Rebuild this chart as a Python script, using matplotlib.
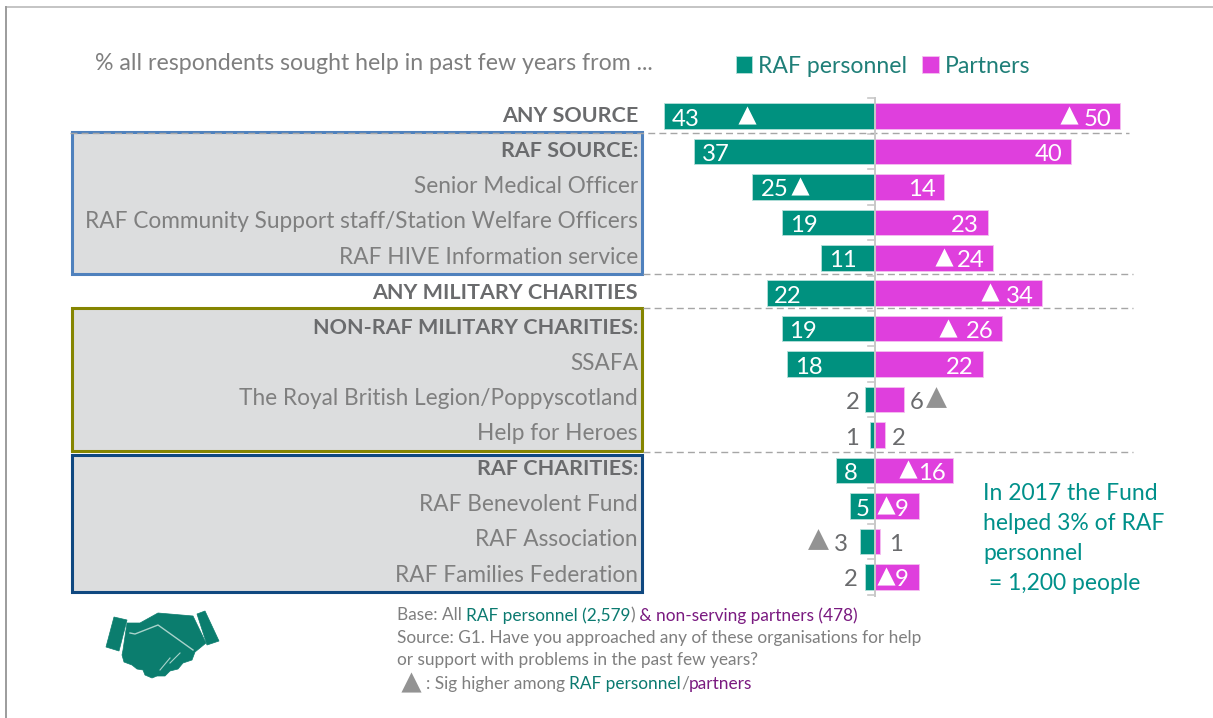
import matplotlib
matplotlib.use("Agg")
import matplotlib.pyplot as plt
from matplotlib.patches import Rectangle, Polygon

plt.rcParams['font.family'] = ['Lato', 'DejaVu Sans']

# ---- data ----
categories = ["ANY SOURCE", "RAF SOURCE:", "Senior Medical Officer",
              "RAF Community Support staff/Station Welfare Officers",
              "RAF HIVE Information service", "ANY MILITARY CHARITIES",
              "NON-RAF MILITARY CHARITIES:", "SSAFA",
              "The Royal British Legion/Poppyscotland", "Help for Heroes",
              "RAF CHARITIES:", "RAF Benevolent Fund", "RAF Association",
              "RAF Families Federation"]
bold_rows = [0, 1, 5, 6, 10]
raf_personnel = [43, 37, 25, 19, 11, 22, 19, 18, 2, 1, 8, 5, 3, 2]
partners = [50, 40, 14, 23, 24, 34, 26, 22, 6, 2, 16, 9, 1, 9]

# ---- layout (label and marker x positions, in pixels) ----
raf_label_x = [686, 716, 775, 804, 843, 788, 803, 809, 853, 852, 851, 863, 841, 851]
par_label_x = [1098, 1049, 922, 965, 971, 1020, 980, 960, 917, 899, 932, 902, 896, 902]
raf_white = [0, 1, 2, 3, 4, 5, 6, 7, 10, 11]
par_white = [0, 1, 2, 3, 4, 5, 6, 7, 10, 11, 13]
white_tri = [(0, 747), (0, 1069), (2, 800), (4, 944), (5, 990), (6, 948),
             (10, 908), (11, 886), (13, 886)]
grey_tri = [(8, 936), (12, 818)]

W, H = 1213, 718
TEAL, MAGENTA = '#00917f', '#df3fdd'
TEAL_TXT, PURPLE = '#00807a', '#7a1a80'
GREY, DARK = '#7f7f7f', '#6a6b6d'
X0, PXU = 875.0, 4.9
Y0, PXR = 116.0, 35.45
FS = 16.3


def px2x(p):
    return (p - X0) / PXU


def py2y(p):
    return (p - Y0) / PXR


fig = plt.figure(figsize=(W / 100, H / 100), dpi=100, facecolor='white')
bg = fig.add_axes([0, 0, 1, 1])
bg.set_xlim(0, W)
bg.set_ylim(H, 0)
bg.axis('off')
ax = fig.add_axes([0, 0, 1, 1], facecolor='none')
ax.set_xlim(px2x(0), px2x(W))
ax.set_ylim(py2y(H), py2y(0))
ax.axis('off')

# frame
bg.plot([6, W], [7, 7], color='#c4c4c4', lw=1.4)
bg.plot([6, 6], [7, H], color='#9c9c9c', lw=1.4)

# group boxes
for (y0, y1, c) in [(132, 274, '#4f81bd'), (308, 451, '#858500'), (455, 592, '#0f4880')]:
    bg.add_patch(Rectangle((72, y0), 570, y1 - y0, facecolor='#dcddde', edgecolor=c, lw=2.2, zorder=2))

# dashed separators
for (a, b, y) in [(70, 1129, 133), (643, 1133, 274), (643, 1133, 308), (643, 1133, 452)]:
    bg.plot([a, b], [y, y], color='#a6a6a6', lw=1.0, ls=(0, (5, 3)), zorder=3)

# bars
rows = list(range(len(categories)))
ax.barh(rows, [-v for v in raf_personnel], height=0.72, color=TEAL, edgecolor='#b5e0da', lw=0.6,
        label='RAF personnel', zorder=4)
ax.barh(rows, partners, height=0.72, color=MAGENTA, edgecolor='#f5c0f0', lw=0.6,
        label='Partners', zorder=4)

# axis ticks and line
for i in range(15):
    yy = Y0 + (i - 0.5) * PXR
    bg.plot([868, 875], [yy, yy], color='#c8c8c8', lw=1.2, zorder=1)
ax.plot([0, 0], [py2y(98), py2y(596)], color='#c8c8c8', lw=1.4, zorder=5)

# category labels
for i, c in enumerate(categories):
    b = i in bold_rows
    ax.text(px2x(638), i * 0.997 - 0.06, c, ha='right', va='center_baseline', fontsize=15.45 if b else FS,
            fontweight='bold' if b else 'normal', color=DARK if b else GREY, zorder=6)

# value labels
for i, v in enumerate(raf_personnel):
    ax.text(px2x(raf_label_x[i]), i + 0.03, str(v), ha='center', va='center_baseline', fontsize=17.2,
            color='white' if i in raf_white else DARK, zorder=6)
for i, v in enumerate(partners):
    ax.text(px2x(par_label_x[i]), i + 0.03, str(v), ha='center', va='center_baseline', fontsize=17.2,
            color='white' if i in par_white else DARK, zorder=6)

# significance markers
ax.scatter([px2x(x) for r, x in white_tri], [r - 0.03 for r, x in white_tri], marker='^', s=170,
           color='white', lw=0, zorder=6)
ax.scatter([px2x(x) for r, x in grey_tri], [r - 0.08 for r, x in grey_tri], marker='^', s=225,
           color='#939393', lw=0, zorder=6)

# header and legend
bg.text(95, 61, "% all respondents sought help in past few years from ...", fontsize=16.7, color=GREY,
        ha='left', va='center_baseline')
leg = ax.legend(loc='upper left', bbox_to_anchor=(731 / W, 1 - 51 / H), ncols=2, frameon=False,
                fontsize=16.6, labelcolor='#1f7f78', handlelength=0.72, handleheight=0.72,
                handletextpad=0.26, columnspacing=0.66, borderaxespad=0, borderpad=0.2)

# side note
for y, s in [(491, "In 2017 the Fund"), (521, "helped 3% of RAF"), (552, "personnel"), (581, " = 1,200 people")]:
    bg.text(983, y, s, fontsize=FS + 0.2, color='#00908a', ha='left', va='center_baseline')


# footnotes with coloured runs
def runs(x, y, parts, fs=12.45):
    r = fig.canvas.get_renderer()
    for s, col in parts:
        t = bg.text(x, y, s, fontsize=fs, color=col, ha='left', va='center_baseline')
        x = bg.transData.inverted().transform(t.get_window_extent(r).get_points())[1, 0]


runs(397, 614, [("Base: All ", GREY), ("RAF personnel (2,579", '#0b7a70'), (")", GREY),
                (" & non-serving partners (478)", PURPLE)])
runs(397, 637, [("Source: G1. Have you approached any of these organisations for help", GREY)])
runs(397, 659, [("or support with problems in the past few years?", GREY)])
bg.scatter([411], [682], marker='^', s=210, color='#939393', lw=0, zorder=4)
runs(426, 682, [(": Sig higher among ", GREY), ("RAF personnel", '#0b7a70'), ("/", GREY), ("partners", PURPLE)])

# handshake icon
HC = '#0b7d6e'
LN = '#a9d3cb'
bg.add_patch(Polygon([(114, 617), (127, 620), (119, 651), (106, 647)], fc=HC, ec=HC, lw=0.5))
bg.add_patch(Polygon([(197, 614), (205, 611), (219, 641), (207, 645)], fc=HC, ec=HC, lw=0.5))
bg.add_patch(Polygon([(127, 623), (140, 623), (158, 613), (193, 616), (206, 643), (195, 652),
                      (192, 660), (183, 663), (178, 669), (170, 671), (165, 676), (157, 676),
                      (152, 678), (145, 675), (143, 670), (137, 669), (132, 665), (124, 662),
                      (122, 655), (123, 650)], fc=HC, ec=HC, lw=0.5))
bg.plot([130, 135, 158, 193], [633, 634, 625, 650], color=LN, lw=1.0)
bg.plot([180, 170], [653, 663], color=LN, lw=0.8)
bg.plot([170, 160], [658, 670], color=LN, lw=0.8)
plt.savefig('out.png', dpi=100)
